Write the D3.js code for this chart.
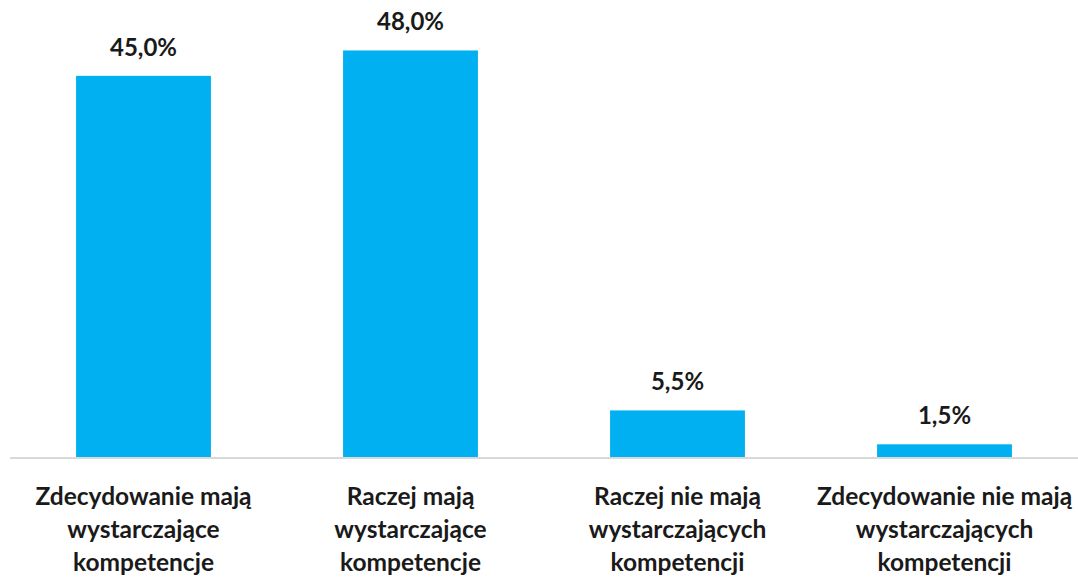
<!DOCTYPE html>
<html><head><meta charset="utf-8">
<script src="https://cdn.jsdelivr.net/npm/d3@7"></script>
<style>body{margin:0;background:#fff}svg{display:block}</style>
</head><body>
<svg id="c" width="1078" height="577"></svg>
<script>
const categories = [
  ["Zdecydowanie mają","wystarczające","kompetencje"],
  ["Raczej mają","wystarczające","kompetencje"],
  ["Raczej nie mają","wystarczających","kompetencji"],
  ["Zdecydowanie nie mają","wystarczających","kompetencji"]
];
const values = [45.0, 48.0, 5.5, 1.5];
const valueLabels = ["45,0%","48,0%","5,5%","1,5%"];

const svg = d3.select("#c");
const base = 457;
const x = d3.scaleBand().domain(d3.range(values.length)).range([10, 1078]).paddingInner(0.495).paddingOuter(0.2475);
const y = d3.scaleLinear().domain([0, 54]).range([base, base - 54*8.47]);

svg.append("line").attr("x1",10).attr("x2",1078).attr("y1",base+1).attr("y2",base+1)
  .attr("stroke","#d9d9d9").attr("stroke-width",2);

svg.selectAll("rect.bar").data(values).join("rect").attr("class","bar")
  .attr("x",(d,i)=>x(i)).attr("width",x.bandwidth())
  .attr("y",d=>y(d)).attr("height",d=>base-y(d)).attr("fill","#00b0f0");

svg.selectAll("text.val").data(values).join("text").attr("class","val")
  .attr("x",(d,i)=>x(i)+x.bandwidth()/2).attr("y",d=>y(d)-20)
  .attr("text-anchor","middle").attr("font-family","Lato").attr("font-weight","bold")
  .attr("font-size",24).attr("fill","#1a1a1a").text((d,i)=>valueLabels[i]);

const g = svg.selectAll("text.cat").data(categories).join("text").attr("class","cat")
  .attr("x",(d,i)=>x(i)+x.bandwidth()/2).attr("y",505)
  .attr("text-anchor","middle").attr("font-family","Lato").attr("font-weight","bold")
  .attr("font-size",24.5).attr("fill","#1a1a1a");
g.selectAll("tspan").data(d=>d).join("tspan")
  .attr("x",function(){return this.parentNode.getAttribute("x");})
  .attr("dy",(d,j)=>j===0?0:33).text(d=>d);
</script>
</body></html>
